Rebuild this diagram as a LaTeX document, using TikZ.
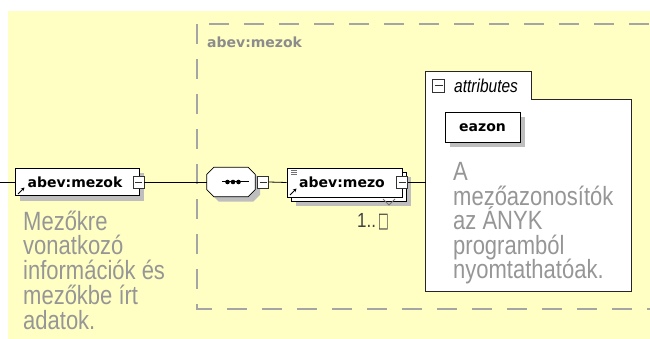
\documentclass[tikz,border=0pt]{standalone}
\usepackage{fontspec}
\setmainfont{Liberation Sans}
\newfontfamily\dvs{DejaVu Sans}
\usetikzlibrary{shadows,arrows.meta,calc}
\definecolor{bgyellow}{RGB}{255,255,196}
\definecolor{desc}{RGB}{150,150,150}
\definecolor{grp}{RGB}{165,165,165}
\definecolor{grplab}{RGB}{140,140,140}
\definecolor{shade}{RGB}{190,190,190}
\tikzset{
  elem/.style={draw=black, fill=white, line width=0.8pt, inner sep=0pt,
    font=\dvs\bfseries\fontsize{14}{16}\selectfont, text height=10pt, text depth=0pt},
  shadowed/.style={drop shadow={shadow xshift=5pt, shadow yshift=-5pt, fill=shade, opacity=1}},
  minusbox/.style={draw=black!80, fill=white, line width=0.8pt, minimum width=11pt,
    minimum height=12pt, inner sep=0pt,
    path picture={\draw[line width=0.8pt] ([xshift=2pt]path picture bounding box.west) -- ([xshift=-2pt]path picture bounding box.east);}},
  conn/.style={draw=black, line width=0.8pt},
  desctext/.style={text=desc, inner sep=0pt, anchor=base west},
  grpline/.style={draw=grp, line width=1.5pt, dash pattern=on 20pt off 15pt},
  refarrow/.style={line width=0.9pt, -{Stealth[length=3.5pt,width=3.5pt]}},
}
\begin{document}
\begin{tikzpicture}[x=1pt,y=-1pt]
\useasboundingbox (0,0) rectangle (650,339);
\clip (0,0) rectangle (650,339);
% background
\fill[bgyellow] (8,11) rectangle (650,339);
% group box
\draw[grpline] (197,24) -- (197,309) -- (660,309);
\draw[grpline, dash phase=23pt] (197,24) -- (660,24);
\node[anchor=base west, inner sep=0pt, text=grplab, font=\dvs\bfseries\fontsize{14}{16}\selectfont] (grplabel) at (207,48) {abev:mezok};

% left element
\coordinate (in) at (0,182);
\node[elem, shadowed, minimum width=124pt, minimum height=27pt] (mezok) at (77,182) {abev:mezok\kern4pt};
\draw[refarrow] (18,194) -- (24.5,187.5);
\node[minusbox] (mzkminus) at (138.5,182) {};
\draw[conn] (in) -- (mezok.west);

\node[desctext] (d1) at (23,230) {\scalebox{1}[1.2]{\parbox[t]{200pt}{\fontsize{22}{20.8}\selectfont\lineskiplimit=-100pt Mezőkre\\vonatkozó\\információk és\\mezőkbe írt\\adatok.}}};

% sequence compositor
\node[inner sep=0pt, minimum width=48pt, minimum height=29pt] (seq) at (231,182) {};
\path[draw=black, fill=white, line width=0.8pt, shadowed]
  ($(seq.north west)+(7,0)$) -- ($(seq.north east)+(-7,0)$) -- ($(seq.north east)+(0,7)$)
  -- ($(seq.south east)+(0,-7)$) -- ($(seq.south east)+(-7,0)$) -- ($(seq.south west)+(7,0)$)
  -- ($(seq.south west)+(0,-7)$) -- ($(seq.north west)+(0,7)$) -- cycle;
\draw[line width=1pt] ($(seq.center)+(-9,0)$) -- ($(seq.center)+(18,0)$);
\foreach \dx in {-3.5,2,7.5} \fill ($(seq.center)+(\dx,0)$) circle [radius=2.3pt];
\node[minusbox] (seqminus) at (263,182) {};
\draw[conn] (mzkminus.east) -- (seq.west);

% mezo element (multiple)
\node[elem, shadowed, minimum width=115pt, minimum height=29pt] (mezoback) at (348.5,186.5) {};
\node[elem, minimum width=115pt, minimum height=29pt] (mezo) at (344.5,182.5) {abev:mezo\kern5pt};
\foreach \yy in {170.5,172.5,174.5} \draw[black!55, line width=0.8pt] (291,\yy) -- (297,\yy);
\draw[refarrow] (290,195) -- (296.5,188.5);
\node[minusbox] (mezominus) at (402,182) {};
\draw[conn] (seqminus.east) -- (mezo.west);
\draw[black!55, line width=0.8pt] (383,199) -- (389,205) -- (395,199);
\node[anchor=base west, inner sep=0pt, text=black!75] (card) at (357,227) {\scalebox{1}[1.2]{\fontsize{17}{20}\selectfont 1..\hspace{2pt}{\dvs\scalebox{0.75}[1.15]{\fontsize{15}{18}\selectfont □}}}};

% attributes box
\node[inner sep=0pt, minimum width=205pt, minimum height=219pt] (attr) at (528.5,181.5) {};
\path[draw=black!85, fill=white, line width=1pt]
  (attr.south west) -- (attr.north west) -- ($(attr.north west)+(106,0)$) -- ($(attr.north west)+(106,28)$)
  -- ($(attr.north east)+(0,28)$) -- (attr.south east) -- cycle;
\node[minusbox, minimum width=12pt, minimum height=13pt] (attrminus) at (438.5,85.5) {};
\node[anchor=base west, inner sep=0pt, font=\itshape\fontsize{15.5}{18}\selectfont] (attrlabel) at (454,93) {\scalebox{1}[1.2]{attributes}};
\draw[conn] (mezominus.east) -- (mezominus -| attr.west);

\node[elem, shadowed, minimum width=75pt, minimum height=30pt] (eazon) at (482.5,127) {eazon};

\node[desctext] (d2) at (453,181) {\scalebox{1}[1.2]{\parbox[t]{200pt}{\fontsize{22}{20.4}\selectfont\lineskiplimit=-100pt A\\mezőazonosítók\\az ÁNYK\\programból\\nyomtathatóak.}}};
\end{tikzpicture}
\end{document}
